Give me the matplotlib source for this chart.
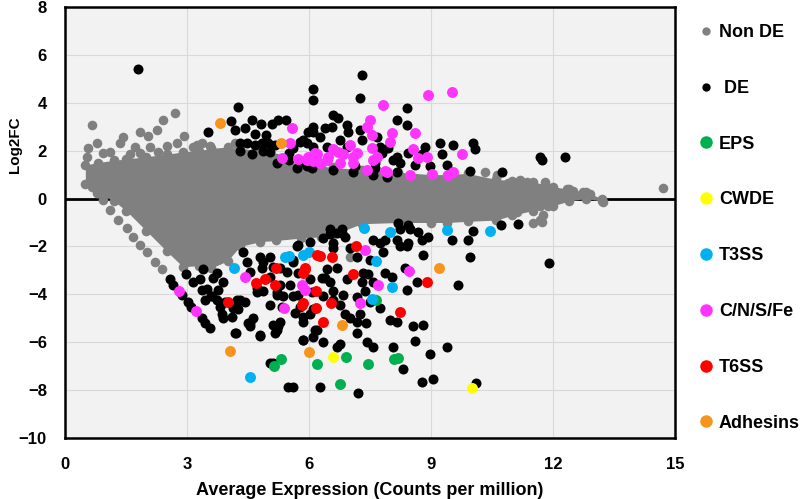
import matplotlib
matplotlib.use("Agg")
import matplotlib.pyplot as plt
from matplotlib.lines import Line2D

plt.rcParams['font.family'] = ['Liberation Sans', 'DejaVu Sans']
plt.rcParams['font.weight'] = 'bold'

# dense body of the non-DE cloud (upper / lower outline)
core_x = [0.5, 0.8, 1.2, 1.5, 2.0, 2.5, 2.9, 3.3, 3.6, 4.0, 4.3, 4.8, 5.2, 5.8, 6.3,
          6.6, 7.3, 8.2, 9.0, 9.4, 9.9, 10.6, 11.0, 11.5, 12.0, 12.4, 12.8, 13.2]
core_hi = [1.4, 1.5, 1.6, 1.65, 1.75, 1.85, 1.95, 2.0, 2.1, 2.15, 2.1, 2.0, 1.7, 1.4, 1.35,
           1.3, 1.2, 1.1, 1.0, 1.0, 1.05, 0.8, 0.75, 0.7, 0.5, 0.38, 0.28, 0.0]
core_lo = [0.6, 0.25, -0.1, -0.5, -1.35, -2.2, -2.85, -2.8, -2.9, -2.6, -2.0, -1.8, -1.75, -1.65, -1.6,
           -1.5, -1.05, -1.0, -1.0, -1.0, -0.95, -0.9, -0.7, -0.5, -0.3, -0.1, 0.0, -0.1]

# non-DE genes outside the dense body
nonde_pts = [
    (0.66, 3.09), (2.7, 3.59), (2.41, 3.3), (2.26, 2.88), (2.04, 2.63), (1.84, 2.76), (1.43, 2.59),
    (0.79, 2.34), (0.57, 2.13), (0.54, 1.75), (2.93, 2.63), (2.75, 2.34), (2.51, 2.21), (3.25, 2.25),
    (3.57, 2.21), (4.18, 2.3), (1.35, 2.34), (1.11, 1.96), (0.93, 1.92), (1.72, 2.17), (2.09, 2.17),
    (2.29, 1.96), (1.84, 1.92), (1.6, 1.84), (3.15, 2.17), (3.37, 2.34),
    (0.66, 0.5), (0.79, 0.25), (0.93, -0.04), (1.11, -0.46), (1.3, -0.88), (1.52, -1.21),
    (1.67, -1.59), (1.84, -1.92), (2.02, -2.25), (2.21, -2.63), (2.38, -2.96),
    (10.33, 1.09), (10.62, 1.0), (10.89, 0.67), (11.19, 0.79), (11.36, 0.71), (11.5, 0.5),
    (11.8, 0.71), (11.97, 0.46), (12.12, 0.04), (11.8, -0.04), (11.88, -0.33), (11.68, -0.33),
    (11.75, -0.67), (11.73, -0.96), (11.68, -0.88), (11.11, -0.58), (11.5, -1.0), (10.7, -0.46),
    (11.0, -0.33), (12.34, 0.38), (12.49, 0.33), (12.74, 0.29), (12.91, 0.17), (13.23, -0.13),
    (14.7, 0.46), (7.0, -2.46),
]

de_pts = [
    # up-regulated
    (1.8, 5.43), (4.25, 3.84), (4.08, 3.22), (4.18, 2.88), (3.52, 2.76), (4.43, 2.96), (4.6, 3.3),
    (4.82, 3.13), (5.09, 3.13), (5.24, 3.3), (5.43, 3.26), (4.67, 2.71), (4.94, 2.67), (4.3, 2.3),
    (4.48, 2.34), (4.67, 2.25), (4.84, 2.3), (4.99, 2.34), (5.16, 2.25), (4.3, 2.0), (4.6, 1.88),
    (4.87, 2.0), (5.04, 1.96), (5.78, 2.38), (5.95, 2.34), (6.1, 2.76), (6.1, 3.0), (5.21, 1.5),
    (5.7, 1.29), (6.07, 1.29), (6.1, 4.59), (6.1, 4.13), (7.3, 5.18), (7.25, 4.22), (8.41, 3.8),
    (8.16, 3.3), (8.41, 3.09), (6.59, 3.51), (6.71, 3.38), (5.97, 2.8), (6.39, 2.96), (6.56, 3.0),
    (6.93, 3.09), (6.96, 2.8), (7.25, 2.88), (7.3, 2.46), (7.67, 2.55), (7.75, 2.17), (7.94, 2.13),
    (8.16, 1.75), (8.85, 2.17), (9.22, 2.34), (9.54, 2.25), (10.03, 2.34), (10.08, 2.05),
    (8.43, 1.92), (8.78, 1.84), (9.27, 1.84), (8.24, 1.5), (8.61, 1.42), (8.97, 1.34), (9.39, 1.42),
    (9.96, 1.13), (10.75, 1.09), (11.68, 1.75), (11.73, 1.63), (12.29, 1.75), (7.13, 1.34),
    (7.62, 1.29), (8.16, 1.09), (7.62, 1.5), (7.79, 1.92), (8.06, 1.63), (5.85, 2.46), (6.1, 2.17),
    (6.27, 2.55), (6.44, 2.17), (6.76, 2.46), (6.93, 2.17), (5.95, 1.34), (6.59, 1.21), (7.08, 1.09),
    (7.57, 1.0), (7.92, 0.92), (5.5, 1.9), (5.6, 2.1), (5.9, 1.5), (5.5, 1.6),
    # down-regulated
    (2.58, -3.38), (2.66, -3.59), (2.88, -4.01), (3.02, -4.34), (3.1, -4.51), (2.98, -3.17),
    (3.15, -3.47), (3.39, -2.96), (3.32, -3.38), (3.49, -3.76), (3.64, -3.3), (3.74, -3.09),
    (3.88, -3.47), (3.59, -4.09), (3.74, -4.22), (3.81, -4.51), (3.37, -4.97), (3.44, -5.18),
    (3.57, -5.39), (4.18, -5.6), (4.79, -5.72), (3.88, -4.97), (4.13, -4.55), (4.3, -4.22),
    (4.55, -5.34), (4.55, -5.18), (4.62, -4.97), (5.11, -5.26), (5.24, -5.34), (5.11, -6.85),
    (5.61, -7.89), (5.85, -5.89), (4.38, -2.25), (4.48, -2.63), (4.79, -2.46), (5.04, -2.46),
    (4.84, -2.88), (5.11, -2.84), (5.29, -2.88), (5.46, -3.05), (5.61, -2.55), (5.7, -2.0),
    (4.72, -3.72), (5.21, -3.92), (5.53, -3.59), (5.61, -4.09), (5.78, -4.51), (6.1, -4.63),
    (5.85, -4.93), (6.2, -5.47), (6.1, -5.8), (3.37, -3.8), (3.61, -4.09), (3.76, -3.8),
    (3.44, -4.22), (3.93, -4.34), (4.23, -4.22), (4.43, -4.3), (3.86, -4.84), (4.11, -4.93),
    (4.25, -4.63), (4.5, -5.18), (4.79, -5.68), (4.2, -5.6), (5.21, -5.47), (5.16, -5.6),
    (5.29, -5.14), (4.55, -3.05), (4.87, -2.63), (5.04, -3.26), (5.29, -3.59), (5.21, -4.01),
    (5.36, -4.09), (5.33, -4.51), (5.04, -4.43), (4.87, -3.88), (4.72, -3.92), (5.48, -7.89),
    (6.27, -7.89), (7.2, -8.1), (5.85, -5.14), (6.15, -5.47), (5.85, -5.89), (6.34, -6.01),
    (6.69, -6.18), (6.76, -6.09), (7.18, -5.6), (7.43, -5.97), (7.57, -6.22), (7.4, -5.18),
    (7.18, -5.14), (7.99, -5.09), (8.16, -5.14), (8.56, -5.34), (8.8, -5.3), (8.61, -5.93),
    (8.06, -6.18), (8.31, -7.1), (8.97, -6.51), (8.78, -7.68), (9.05, -7.52), (9.39, -6.18),
    (8.8, -2.34), (8.41, -3.8), (8.66, -3.47), (8.36, -2.88), (7.87, -3.09), (8.04, -3.26),
    (7.82, -2.25), (8.24, -2.0), (8.41, -2.0), (8.16, -1.71), (8.43, -1.84), (8.24, -1.29),
    (8.48, -1.29), (8.68, -1.38), (8.78, -1.71), (8.19, -1.0), (8.43, -1.09), (8.93, -1.59),
    (7.33, -3.09), (7.45, -3.17), (7.57, -3.47), (7.38, -3.88), (7.5, -4.34), (7.75, -4.55),
    (7.18, -4.13), (7.25, -4.84), (7.01, -4.97), (6.89, -4.84), (6.76, -4.43), (6.59, -3.88),
    (6.84, -4.01), (6.93, -3.38), (7.3, -3.47), (6.52, -3.47), (6.69, -2.88), (6.44, -2.96),
    (6.32, -3.3), (6.59, -1.84), (6.89, -1.59), (7.01, -2.05), (7.18, -2.46), (6.69, -1.42),
    (7.57, -1.71), (7.75, -1.84), (7.5, -2.55), (7.87, -1.71), (6.52, -1.29), (6.81, -1.29),
    (5.61, -2.67), (5.73, -3.09), (6.02, -3.38), (6.39, -3.3), (6.07, -3.92), (6.34, -4.09),
    (6.59, -4.22), (5.73, -4.01), (6.02, -4.84), (5.66, -4.76), (6.52, -1.46), (6.81, -1.42),
    (6.34, -1.63), (6.02, -1.8), (5.73, -1.92), (6.59, -2.05), (9.66, -3.59), (9.96, -2.42),
    (9.52, -1.75), (9.91, -1.71), (10.03, -1.34), (10.72, -1.09), (11.14, -1.05), (11.9, -2.7),
    (10.1, -7.7), (5.04, -6.85),
]

eps_pts = [(5.3, -6.7), (5.15, -7.0), (6.2, -6.9), (6.9, -6.6), (7.45, -6.9), (8.1, -6.7),
           (8.2, -6.65), (6.75, -7.75), (7.65, -4.25)]
cwde_pts = [(6.6, -6.6), (10.0, -7.9)]
t3ss_pts = [(4.15, -2.9), (5.4, -2.45), (4.55, -7.45), (7.35, -1.25), (8.0, -1.4), (9.4, -1.3),
            (10.45, -1.35), (5.85, -2.35), (6.0, -2.25), (7.65, -2.6), (8.05, -3.7), (7.55, -4.2),
            (5.5, -2.4)]
cnsfe_pts = [
    (2.8, -3.88), (3.22, -4.68), (4.43, -3.26), (5.38, -4.55), (7.38, -2.13), (5.83, -3.59),
    (5.9, -3.8), (7.7, -3.59), (8.46, -3.01), (7.25, -4.38),
    (5.58, 2.96), (5.53, 2.34), (5.34, 1.71), (5.73, 1.67), (5.97, 1.75), (6.1, 1.55), (6.2, 1.84),
    (7.82, 3.92), (8.93, 4.34), (9.52, 4.47), (7.5, 3.3), (7.42, 3.0), (7.55, 2.67), (8.04, 2.75),
    (7.99, 2.38), (8.6, 2.75), (8.9, 1.75), (8.68, 1.71), (9.76, 1.84), (7.42, 1.21), (7.87, 1.13),
    (8.48, 1.0), (9.02, 1.04), (9.42, 1.0), (9.54, 1.09), (6.84, 1.84), (6.59, 2.05), (6.47, 1.75),
    (6.15, 1.92), (5.95, 1.63), (7.08, 1.75), (7.0, 2.25), (7.55, 2.13), (7.67, 1.75), (6.76, 1.5),
    (6.27, 1.5), (6.71, 1.96), (7.18, 1.92), (6.44, 1.63), (7.08, 1.5), (7.57, 1.63), (7.92, 1.09),
    (8.56, 2.05),
]
t6ss_pts = [(4.01, -4.34), (4.7, -3.51), (4.92, -3.38), (5.16, -3.59), (5.19, -2.92), (5.9, -2.96),
            (5.85, -4.38), (6.2, -2.34), (6.27, -2.38), (6.56, -2.42), (7.15, -2.0), (5.9, -2.88),
            (5.85, -3.09), (7.08, -3.13), (6.17, -3.88), (5.83, -4.43), (6.17, -4.55), (6.54, -4.38),
            (6.34, -5.14), (8.24, -4.72), (8.9, -3.47)]
adhesin_pts = [(3.8, 3.17), (5.3, 2.3), (4.05, -6.35), (6.8, -5.3), (6.0, -6.4), (9.2, -2.9)]

x_ticks = [0, 3, 6, 9, 12, 15]
y_ticks = [-10, -8, -6, -4, -2, 0, 2, 4, 6, 8]

colors = {'Non DE': '#808080', 'DE': 'black', 'EPS': '#00b050', 'CWDE': '#ffff00',
          'T3SS': '#00b0f0', 'C/N/S/Fe': '#ff33ff', 'T6SS': '#ff0000', 'Adhesins': '#f7941d'}

fig = plt.figure(figsize=(8, 4.99), dpi=100)
ax = fig.add_axes([65 / 800, 1 - 438 / 499, 610 / 800, 431 / 499])
ax.set_facecolor('#f2f2f2')

def xs(pts):
    return [p[0] for p in pts]

def ys(pts):
    return [p[1] for p in pts]

ax.axhline(0, color='black', lw=2, zorder=1)
ax.fill_between(core_x, core_lo, core_hi, color=colors['Non DE'], lw=0, zorder=2)
ax.scatter(xs(nonde_pts), ys(nonde_pts), s=48, color=colors['Non DE'], lw=0, zorder=2)
ax.scatter(core_x, core_hi, s=48, color=colors['Non DE'], lw=0, zorder=2)
ax.scatter(core_x, core_lo, s=48, color=colors['Non DE'], lw=0, zorder=2)
ax.scatter(xs(de_pts), ys(de_pts), s=52, color='black', lw=0, zorder=3)
for name, pts in [('EPS', eps_pts), ('CWDE', cwde_pts), ('T3SS', t3ss_pts), ('C/N/S/Fe', cnsfe_pts),
                  ('T6SS', t6ss_pts), ('Adhesins', adhesin_pts)]:
    ax.scatter(xs(pts), ys(pts), s=62, color=colors[name], lw=0, zorder=4)

ax.set_xlim(0, 15)
ax.set_ylim(-10, 8)
ax.set_xticks(x_ticks)
ax.set_yticks(y_ticks)
ax.grid(True, color='#d9d9d9', lw=0.8)
ax.set_axisbelow(True)
ax.tick_params(length=0, labelsize=12)
ax.tick_params(axis='x', pad=14)
ax.tick_params(axis='y', pad=13)
for lab in ax.get_xticklabels() + ax.get_yticklabels():
    lab.set_fontweight('bold')
for sp in ax.spines.values():
    sp.set_linewidth(1.8)
ax.set_xlabel('Average Expression (Counts per million)', fontsize=13, fontweight='bold', labelpad=7)
ax.set_ylabel('Log2FC', fontsize=11, fontweight='bold')
ax.yaxis.set_label_coords(-0.071, 0.68)

handles = []
for name in colors:
    ms = 6 if name in ('Non DE', 'DE') else 9
    handles.append(Line2D([], [], ls='none', marker='o', ms=ms, color=colors[name], mec='none'))
labels = ['Non DE', ' DE', 'EPS', 'CWDE', 'T3SS', 'C/N/S/Fe', 'T6SS', 'Adhesins']
ax.legend(handles, labels, loc='upper left', bbox_to_anchor=(699 / 800, 1 - 24 / 499),
          bbox_transform=fig.transFigure, frameon=False, labelspacing=2.15,
          handlelength=0.8, handletextpad=0.3, borderpad=0, borderaxespad=0,
          prop={'weight': 'bold', 'size': 13})

fig.savefig('out.png', dpi=100)
